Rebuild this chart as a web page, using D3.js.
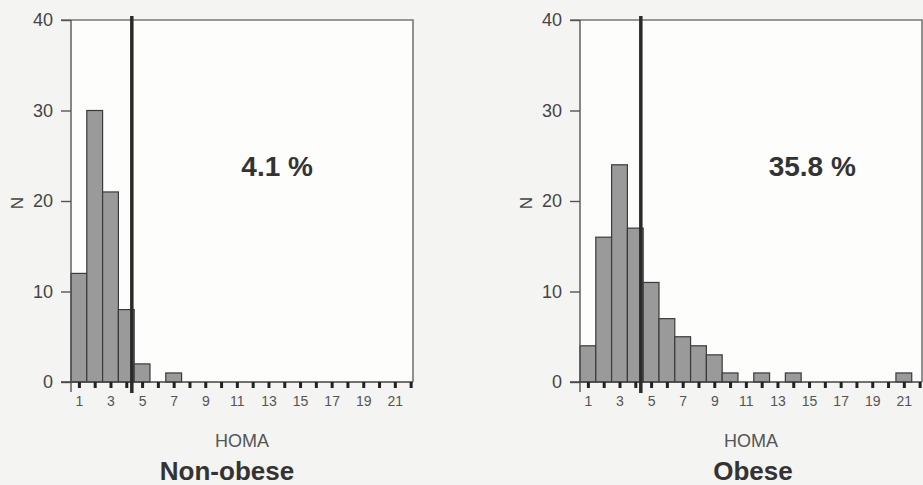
<!DOCTYPE html>
<html>
<head>
<meta charset="utf-8">
<script src="https://cdn.jsdelivr.net/npm/d3@7"></script>
<style>
  body { margin: 0; background: #f4f4f2; }
  svg { display: block; font-family: "Liberation Sans", Arial, sans-serif; }
</style>
</head>
<body>
<div id="chart"></div>
<script>
// HOMA histogram, bins 1..22
const bins = d3.range(1, 23)
const nonObese = [12, 30, 21, 8, 2, 0, 1, 0, 0, 0, 0, 0, 0, 0, 0, 0, 0, 0, 0, 0, 0, 0]
const obese = [4, 16, 24, 17, 11, 7, 5, 4, 3, 1, 0, 1, 0, 1, 0, 0, 0, 0, 0, 0, 1, 0]
const xTickLabels = [1, 3, 5, 7, 9, 11, 13, 15, 17, 19, 21]
const yTicks = [0, 10, 20, 30, 40]
const cutoff = 4.35
const panels = [
  { name: "Non-obese", pct: "4.1 %", values: nonObese, left: 71, nameShift: -15, pctX: 13.55 },
  { name: "Obese", pct: "35.8 %", values: obese, left: 580, nameShift: 2, pctX: 15.2 }
]

const width = 923
const height = 485
const plotW = 342
const plotTop = 20
const plotBottom = 382

const svg = d3.select("#chart")
  .append("svg")
  .attr("width", width)
  .attr("height", height)

panels.forEach(function(p) {
  const g = svg.append("g").attr("transform", "translate(" + p.left + ",0)")

  const x = d3.scaleLinear().domain([0.5, 22.15]).range([0, plotW])
  const y = d3.scaleLinear().domain([0, 40]).range([plotBottom, plotTop])

  // white plot area
  g.append("rect")
    .attr("x", 0).attr("y", plotTop)
    .attr("width", plotW).attr("height", plotBottom - plotTop)
    .attr("fill", "#fdfdfc")

  // frame top + right
  g.append("path")
    .attr("d", "M-10," + plotTop + "H" + plotW + "V" + plotBottom)
    .attr("fill", "none")
    .attr("stroke", "#777")
    .attr("stroke-width", 1.6)

  // bars
  g.selectAll("rect.bar")
    .data(bins.map((b, i) => ({ b: b, n: p.values[i] })).filter(d => d.n > 0))
    .join("rect")
      .attr("class", "bar")
      .attr("x", d => x(d.b - 0.5))
      .attr("width", d => x(d.b + 0.5) - x(d.b - 0.5))
      .attr("y", d => y(d.n))
      .attr("height", d => y(0) - y(d.n))
      .attr("fill", "#9a9a9a")
      .attr("stroke", "#3a3a3a")
      .attr("stroke-width", 1.2)

  // y axis
  const yAxis = g.append("g")
    .call(d3.axisLeft(y).tickValues(yTicks).tickSize(10).tickPadding(8))
  yAxis.select(".domain").attr("d", "M0," + plotTop + "V" + (plotBottom + 10)).attr("stroke", "#555").attr("stroke-width", 1.4)
  yAxis.selectAll(".tick line").attr("stroke", "#555").attr("stroke-width", 1.4)
  yAxis.selectAll(".tick text")
    .attr("fill", "#444")
    .style("font-size", "18px")

  // x axis baseline
  g.append("line")
    .attr("x1", -10).attr("x2", plotW)
    .attr("y1", plotBottom).attr("y2", plotBottom)
    .attr("stroke", "#444").attr("stroke-width", 1.6)

  // x ticks (small dark marks under each bin)
  const xAxis = g.append("g")
    .attr("transform", "translate(0," + plotBottom + ")")
    .call(d3.axisBottom(x).tickValues(bins).tickSize(6).tickFormat(""))
  xAxis.select(".domain").remove()
  xAxis.selectAll(".tick line").attr("stroke", "#222").attr("stroke-width", 3)

  const xLab = g.append("g")
    .attr("transform", "translate(0," + plotBottom + ")")
    .call(d3.axisBottom(x).tickValues(xTickLabels).tickSize(0).tickPadding(14))
  xLab.select(".domain").remove()
  xLab.selectAll(".tick text")
    .attr("fill", "#555")
    .style("font-size", "14px")

  // cutoff line
  g.append("line")
    .attr("x1", x(cutoff)).attr("x2", x(cutoff))
    .attr("y1", 16).attr("y2", 393)
    .attr("stroke", "#2a2a2a")
    .attr("stroke-width", 3.5)

  // N label
  g.append("text")
    .attr("transform", "translate(" + (-54) + "," + (y(20) + 2) + ") rotate(-90)")
    .attr("text-anchor", "middle")
    .attr("dy", "0.35em")
    .attr("fill", "#444")
    .style("font-size", "17px")
    .text("N")

  g.append("text")
    .attr("x", x(p.pctX))
    .attr("y", 176)
    .attr("text-anchor", "middle")
    .attr("fill", "#333")
    .style("font-size", "28px")
    .style("font-weight", "bold")
    .text(p.pct)

  g.append("text")
    .attr("x", plotW / 2)
    .attr("y", 447)
    .attr("text-anchor", "middle")
    .attr("fill", "#555")
    .style("font-size", "18px")
    .text("HOMA")

  g.append("text")
    .attr("x", plotW / 2 + p.nameShift)
    .attr("y", 480)
    .attr("text-anchor", "middle")
    .attr("fill", "#333")
    .style("font-size", "26px")
    .style("font-weight", "bold")
    .text(p.name)
})
</script>
</body>
</html>
